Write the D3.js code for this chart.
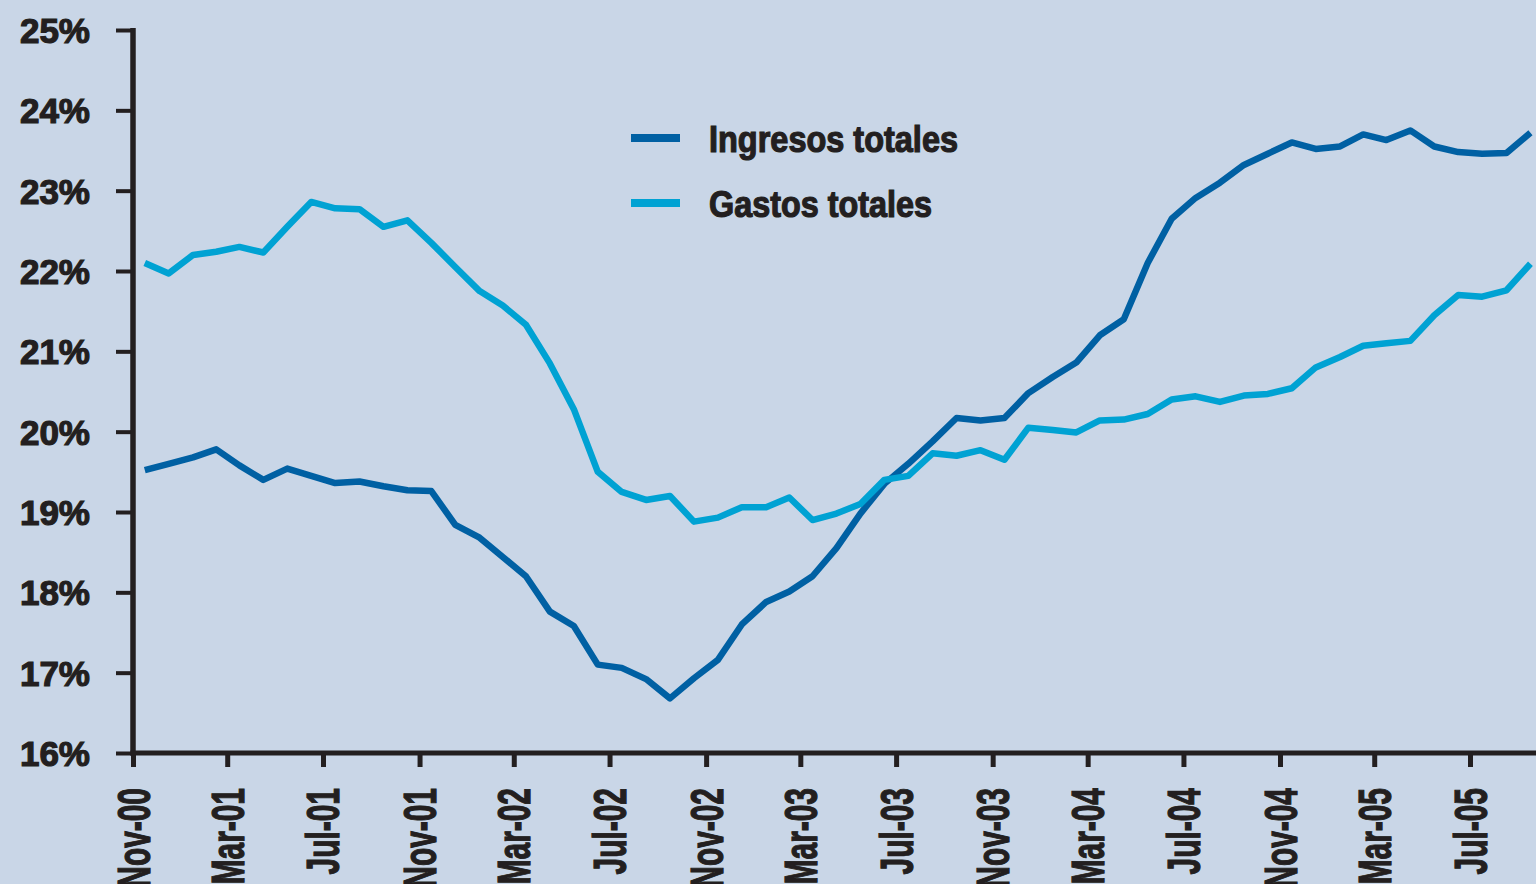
<!DOCTYPE html>
<html>
<head>
<meta charset="utf-8">
<script src="https://cdnjs.cloudflare.com/ajax/libs/d3/7.8.5/d3.min.js"></script>
<style>
body { margin: 0; background: #c9d6e7; overflow: hidden; }
svg { display: block; }
</style>
</head>
<body>
<svg id="chart" width="1536" height="884"></svg>
<script>
// months run from Nov-00, one value per month
var startMonth = new Date(2000, 10, 1);
var tickLabels = ['Nov-00', 'Mar-01', 'Jul-01', 'Nov-01', 'Mar-02', 'Jul-02', 'Nov-02', 'Mar-03',
                  'Jul-03', 'Nov-03', 'Mar-04', 'Jul-04', 'Nov-04', 'Mar-05', 'Jul-05'];
var yTicks = [16, 17, 18, 19, 20, 21, 22, 23, 24, 25];
var seriesNames = ['Ingresos totales', 'Gastos totales'];
var seriesColors = ['#0060a3', '#00a2d3'];

var ingresos = [19.52, 19.60, 19.68, 19.78, 19.58, 19.40, 19.54, 19.45, 19.36, 19.38,
                19.32, 19.27, 19.26, 18.84, 18.68, 18.44, 18.20, 17.76, 17.58, 17.10,
                17.06, 16.92, 16.68, 16.93, 17.16, 17.60, 17.88, 18.01, 18.20, 18.55,
                18.98, 19.35, 19.60, 19.88, 20.17, 20.14, 20.17, 20.48, 20.68, 20.86,
                21.20, 21.40, 22.10, 22.65, 22.91, 23.10, 23.32, 23.46, 23.60, 23.52,
                23.55, 23.70, 23.63, 23.75, 23.55, 23.48, 23.46, 23.47, 23.72];

var gastos = [22.10, 21.97, 22.20, 22.24, 22.30, 22.23, 22.55, 22.86, 22.78, 22.77,
              22.55, 22.63, 22.35, 22.05, 21.75, 21.57, 21.33, 20.85, 20.28, 19.50,
              19.25, 19.15, 19.20, 18.88, 18.93, 19.06, 19.06, 19.18, 18.90, 18.98,
              19.10, 19.40, 19.45, 19.73, 19.70, 19.77, 19.65, 20.05, 20.02, 19.99,
              20.14, 20.15, 20.22, 20.40, 20.44, 20.37, 20.45, 20.47, 20.54, 20.80,
              20.93, 21.07, 21.10, 21.13, 21.45, 21.70, 21.68, 21.76, 22.09];

var axisColor = '#231f20';
var fontFamily = '"Liberation Sans", Arial, sans-serif';

var svg = d3.select('#chart');

var x = d3.scaleTime()
    .domain([startMonth, new Date(2005, 6, 1)])
    .range([133, 1470]);

var y = d3.scaleLinear()
    .domain([16, 25])
    .range([753, 30]);

function midMonth (i) {
    var a = d3.timeMonth.offset(startMonth, i);
    var b = d3.timeMonth.offset(startMonth, i + 1);
    return new Date((a.getTime() + b.getTime()) / 2);
}

// y axis
var yAxis = d3.axisLeft(y)
    .tickValues(yTicks)
    .tickFormat(function (d) { return d + '%'; })
    .tickSize(17)
    .tickSizeOuter(0)
    .tickPadding(26);

var gy = svg.append('g')
    .attr('transform', 'translate(133,0)')
    .call(yAxis);

gy.select('.domain').remove();
gy.selectAll('.tick line')
    .attr('stroke', axisColor)
    .attr('stroke-width', 4);
gy.selectAll('.tick text')
    .attr('fill', axisColor)
    .attr('stroke', axisColor)
    .attr('stroke-width', 1.2)
    .attr('dy', '0.36em')
    .style('font-family', fontFamily)
    .style('font-weight', 'bold')
    .style('font-size', '35px');

svg.append('line')
    .attr('x1', 133).attr('x2', 133)
    .attr('y1', 28).attr('y2', 755.5)
    .attr('stroke', axisColor)
    .attr('stroke-width', 5.5);

// x axis
var tickDates = tickLabels.map(function (d, i) { return d3.timeMonth.offset(startMonth, i * 4); });

var xAxis = d3.axisBottom(x)
    .tickValues(tickDates)
    .tickFormat(function (d, i) { return tickLabels[i]; })
    .tickSize(14)
    .tickSizeOuter(0);

var gx = svg.append('g')
    .attr('transform', 'translate(0,753)')
    .call(xAxis);

gx.select('.domain').remove();
gx.selectAll('.tick line')
    .attr('stroke', axisColor)
    .attr('stroke-width', 5);
gx.selectAll('.tick text')
    .attr('fill', axisColor)
    .attr('stroke', axisColor)
    .attr('stroke-width', 1.2)
    .attr('text-anchor', 'end')
    .attr('x', 0)
    .attr('y', 16)
    .attr('dy', 0)
    .attr('transform', 'translate(0,35) rotate(-90) scale(0.65,1)')
    .style('font-family', fontFamily)
    .style('font-weight', 'bold')
    .style('font-size', '46px');

svg.append('line')
    .attr('x1', 130.5).attr('x2', 1536)
    .attr('y1', 753).attr('y2', 753)
    .attr('stroke', axisColor)
    .attr('stroke-width', 5);

// lines
var line = d3.line()
    .x(function (d, i) { return x(midMonth(i)); })
    .y(function (d) { return y(d); });

[ingresos, gastos].forEach(function (values, k) {
    svg.append('path')
        .datum(values)
        .attr('d', line)
        .attr('fill', 'none')
        .attr('stroke', seriesColors[k])
        .attr('stroke-width', 6.5)
        .attr('stroke-linejoin', 'round');
});

// legend
var legend = svg.append('g').selectAll('g')
    .data(seriesNames)
    .enter().append('g')
    .attr('transform', function (d, i) { return 'translate(631,' + (138 + i * 65) + ')'; });

legend.append('line')
    .attr('x1', 0).attr('x2', 49)
    .attr('stroke', function (d, i) { return seriesColors[i]; })
    .attr('stroke-width', 8);

legend.append('text')
    .attr('x', 78)
    .attr('y', 14)
    .attr('fill', axisColor)
    .attr('stroke', axisColor)
    .attr('stroke-width', 1.2)
    .attr('textLength', function (d, i) { return i === 0 ? 249 : 223; })
    .attr('lengthAdjust', 'spacingAndGlyphs')
    .style('font-family', fontFamily)
    .style('font-weight', 'bold')
    .style('font-size', '36px')
    .text(function (d) { return d; });
</script>
</body>
</html>
